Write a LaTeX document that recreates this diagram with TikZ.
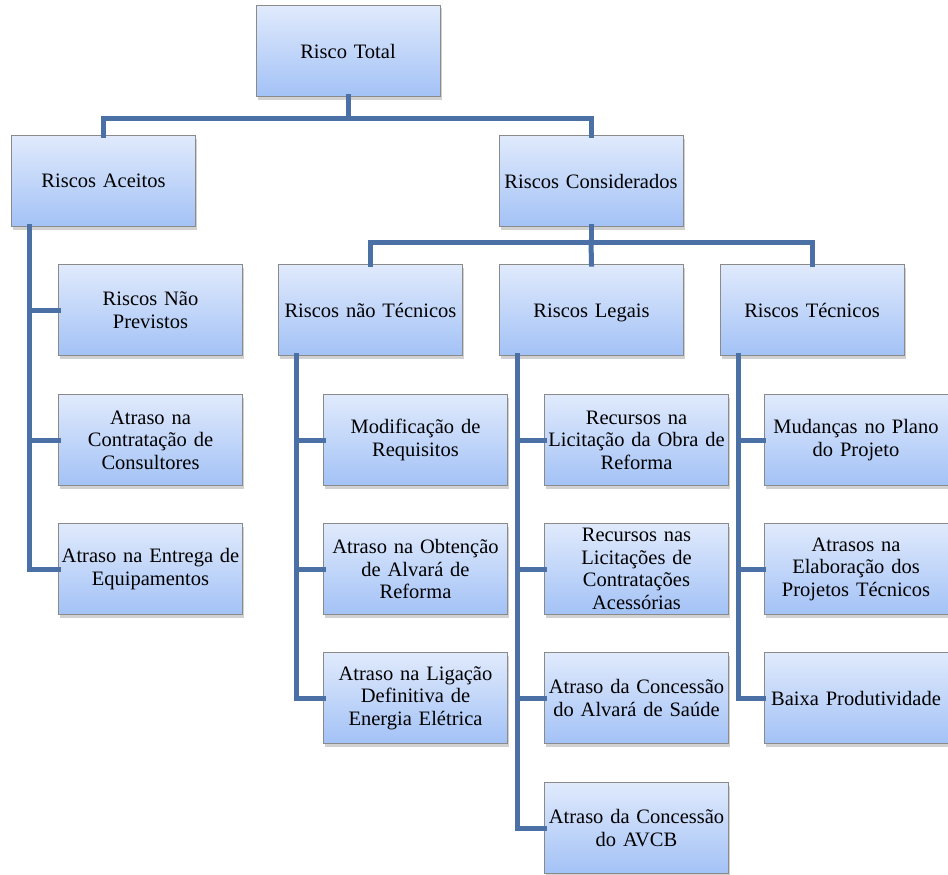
\documentclass[tikz,border=0pt]{standalone}
\usepackage{fontspec}
\setmainfont{Liberation Serif}
\usetikzlibrary{shadows}
\definecolor{boxtop}{HTML}{E0EAFC}
\definecolor{boxbot}{HTML}{A3C2F6}
\definecolor{boxline}{HTML}{8A8A8A}
\definecolor{conn}{HTML}{4A70A6}
\begin{document}
\begin{tikzpicture}[x=1pt,y=-1pt,
  riskbox/.style={rectangle, draw=boxline, line width=0.8pt, top color=boxtop, bottom color=boxbot,
    minimum width=184pt, minimum height=91pt, text width=178pt, align=center, inner sep=2pt,
    font=\fontsize{20.5}{22.5}\selectfont,
    drop shadow={shadow xshift=1.5pt, shadow yshift=-3pt, opacity=0.3, fill=black!60}},
  link/.style={draw=conn, line width=5pt, line join=miter, line cap=rect}]
\useasboundingbox (0,0) rectangle (948,875);
% nodes
\node[riskbox] (total) at (348,51) {Risco Total};
\node[riskbox] (aceitos) at (103.5,181) {Riscos Aceitos};
\node[riskbox] (consid) at (591,181) {Riscos Considerados};
\node[riskbox] (naotec) at (370.5,310) {Riscos não Técnicos};
\node[riskbox] (legais) at (591.5,310) {\vphantom{Té}\smash{Riscos Legais}};
\node[riskbox] (tecnicos) at (812,310) {Riscos Técnicos};
% aceitos children
\node[riskbox] (a1) at (150.5,310) {Riscos Não\\Previstos};
\node[riskbox] (a2) at (150.5,440) {Atraso na\\Contratação de\\Consultores};
\node[riskbox] (a3) at (150.5,569) {Atraso na Entrega de\\Equipamentos};
% nao tecnicos children
\node[riskbox] (n1) at (415.5,440) {Modificação de\\Requisitos};
\node[riskbox] (n2) at (415.5,569) {Atraso na Obtenção\\de Alvará de\\Reforma};
\node[riskbox] (n3) at (415.5,698) {Atraso na Ligação\\Definitiva de\\Energia Elétrica};
% legais children
\node[riskbox] (l1) at (636.5,440) {Recursos na\\Licitação da Obra de\\Reforma};
\node[riskbox] (l2) at (636.5,569) {Recursos nas\\Licitações de\\Contratações\\Acessórias};
\node[riskbox] (l3) at (636.5,698) {Atraso da Concessão\\do Alvará de Saúde};
\node[riskbox] (l4) at (636.5,828) {Atraso da Concessão\\do AVCB};
% tecnicos children
\node[riskbox] (t1) at (856,440) {Mudanças no Plano\\do Projeto};
\node[riskbox] (t2) at (856,569) {Atrasos na\\Elaboração dos\\Projetos Técnicos};
\node[riskbox] (t3) at (856,698) {Baixa Produtividade};
% bus coordinates
\coordinate (bus1) at (348,118);
\coordinate (bus2) at (591,242);
% connectors
\path[link] (total.south) -- (bus1);
\path[link] (aceitos.north) |- (bus1) -| (consid.north);
\path[link] (consid.south) -- (bus2);
\path[link] (naotec.north) |- (bus2) -| (tecnicos.north);
\path[link] (bus2) -- (legais.north);
\path[link] ([xshift=18.5pt]aceitos.south west) |- (a1.west);
\path[link] ([xshift=18.5pt]aceitos.south west) |- (a2.west);
\path[link] ([xshift=18.5pt]aceitos.south west) |- (a3.west);
\path[link] ([xshift=18pt]naotec.south west) |- (n1.west);
\path[link] ([xshift=18pt]naotec.south west) |- (n2.west);
\path[link] ([xshift=18pt]naotec.south west) |- (n3.west);
\path[link] ([xshift=18pt]legais.south west) |- (l1.west);
\path[link] ([xshift=18pt]legais.south west) |- (l2.west);
\path[link] ([xshift=18pt]legais.south west) |- (l3.west);
\path[link] ([xshift=18pt]legais.south west) |- (l4.west);
\path[link] ([xshift=19pt]tecnicos.south west) |- (t1.west);
\path[link] ([xshift=19pt]tecnicos.south west) |- (t2.west);
\path[link] ([xshift=19pt]tecnicos.south west) |- (t3.west);
\end{tikzpicture}
\end{document}
